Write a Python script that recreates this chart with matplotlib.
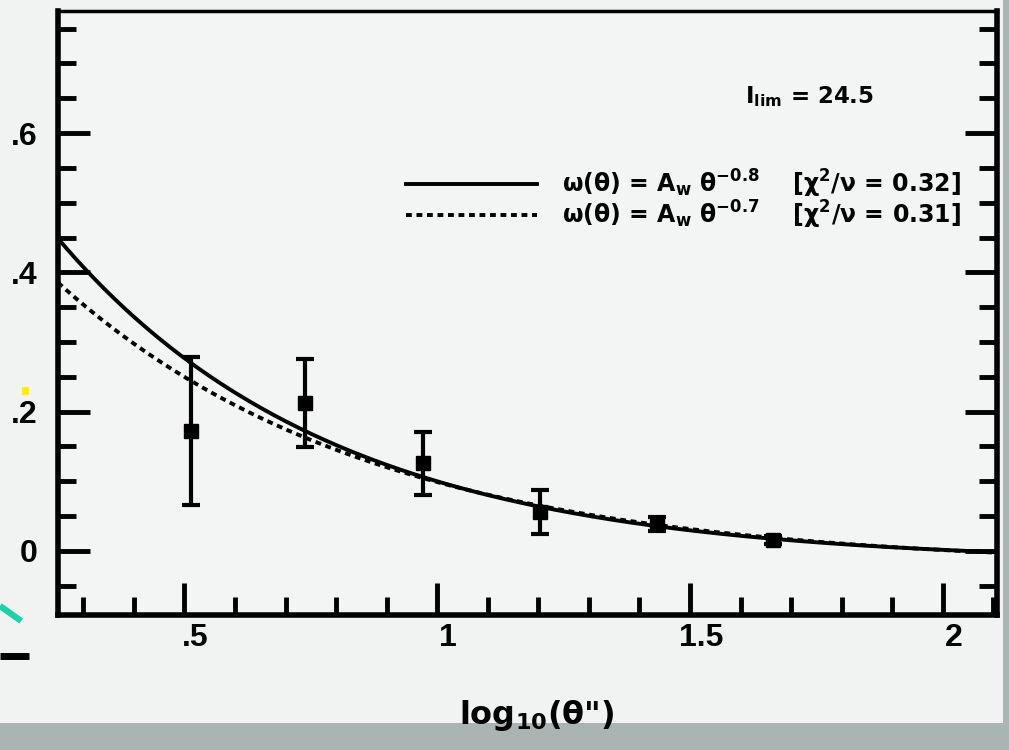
import numpy as np
import matplotlib
matplotlib.use("Agg")
import matplotlib.pyplot as plt
from matplotlib.lines import Line2D
from matplotlib.patches import Rectangle
from matplotlib.transforms import ScaledTranslation
from matplotlib.ticker import MultipleLocator, FixedFormatter, FixedLocator

plt.rcParams['font.family'] = ['DejaVu Sans']
plt.rcParams['font.weight'] = 'bold'
plt.rcParams['mathtext.fontset'] = 'dejavusans'
plt.rcParams['mathtext.default'] = 'bf'

# measured w(theta) in log10(theta") bins
log_theta = [0.514, 0.739, 0.971, 1.203, 1.434, 1.664]
w_theta = [0.172, 0.212, 0.126, 0.056, 0.039, 0.016]
w_err = [0.106, 0.063, 0.045, 0.032, 0.010, 0.006]

# power-law fits, w = A_w * theta^-delta - C (integral constraint)
delta_1, A_1, C_1 = 0.8, 0.738, 0.017
delta_2, A_2, C_2 = 0.7, 0.611, 0.023
label_1 = r'ω(θ) = A$_{w}$ θ$^{-0.8}$    [χ$^{2}$/ν = 0.32]'
label_2 = r'ω(θ) = A$_{w}$ θ$^{-0.7}$    [χ$^{2}$/ν = 0.31]'

x_ticks = [0.5, 1.0, 1.5, 2.0]
x_ticklabels = ['.5', '1', '1.5', '2']
y_ticks = [0.0, 0.2, 0.4, 0.6]
y_ticklabels = ['0', '.2', '.4', '.6']

fig = plt.figure(figsize=(10.09, 7.5), dpi=100)
fig.patch.set_facecolor('#a9b4b3')
# light slide panel behind the plot
fig.add_artist(Rectangle((0, 0.036), 0.994, 0.964, transform=fig.transFigure,
                         facecolor='#f1f3f3', edgecolor='none', zorder=0))
# slide decorations on the left edge
fig.add_artist(Line2D([0.0, 0.021], [0.192, 0.172], transform=fig.transFigure,
                      color='#1ed2a8', lw=4.5, solid_capstyle='butt'))
fig.add_artist(Line2D([0.0, 0.029], [0.126, 0.126], transform=fig.transFigure,
                      color='black', lw=5, solid_capstyle='butt'))
fig.add_artist(Rectangle((0.022, 0.473), 0.007, 0.011, transform=fig.transFigure,
                         facecolor='#ffee00', edgecolor='none'))

ax = fig.add_axes([0.0575, 0.18, 0.9305, 0.805])
ax.set_facecolor('#f3f5f5')

xx = np.linspace(0.25, 2.1, 300)
ax.plot(xx, A_1 * 10 ** (-delta_1 * xx) - C_1, color='black', lw=2.8, label=label_1)
ax.plot(xx, A_2 * 10 ** (-delta_2 * xx) - C_2, color='black', lw=2.8,
        linestyle=(0, (1.5, 1.2)), label=label_2)

ax.errorbar(log_theta, w_theta, yerr=w_err, fmt='s', color='black', ms=10,
            elinewidth=3, capsize=6.5, capthick=3)

ax.set_xlim(0.25, 2.107)
ax.set_ylim(-0.092, 0.775)

for side in ['left', 'bottom', 'right']:
    ax.spines[side].set_linewidth(4)
ax.spines['top'].set_linewidth(2.5)

ax.xaxis.set_major_locator(FixedLocator(x_ticks))
ax.xaxis.set_major_formatter(FixedFormatter(x_ticklabels))
ax.xaxis.set_minor_locator(MultipleLocator(0.1))
ax.yaxis.set_major_locator(FixedLocator(y_ticks))
ax.yaxis.set_major_formatter(FixedFormatter(y_ticklabels))
ax.yaxis.set_minor_locator(MultipleLocator(0.05))

ax.tick_params(which='both', direction='in', top=False, right=True, width=3.5)
ax.tick_params(which='major', length=23, labelsize=23)
ax.tick_params(which='minor', length=13)
ax.tick_params(axis='y', pad=15)
ax.tick_params(axis='x', pad=6)
for lbl in ax.get_xticklabels() + ax.get_yticklabels():
    lbl.set_fontfamily(['Liberation Sans Narrow', 'Liberation Sans'])
# x labels sit a little to the right of their ticks
shift = ScaledTranslation(0.11, 0, fig.dpi_scale_trans)
for lbl in ax.get_xticklabels():
    lbl.set_transform(lbl.get_transform() + shift)

ax.set_xlabel(r'log$_{10}$(θ")', fontsize=23, fontweight='bold')
ax.xaxis.set_label_coords(0.51, -0.138)

ax.text(0.80, 0.859, r'I$_{lim}$ = 24.5', transform=ax.transAxes, fontsize=16.5,
        ha='center', va='center')

ax.legend(loc='upper right', bbox_to_anchor=(0.972, 0.757), frameon=False,
          fontsize=17, handlelength=5.55, handletextpad=1.05, labelspacing=-0.05,
          borderaxespad=0)

fig.savefig('out.png', dpi=100, facecolor=fig.get_facecolor())
